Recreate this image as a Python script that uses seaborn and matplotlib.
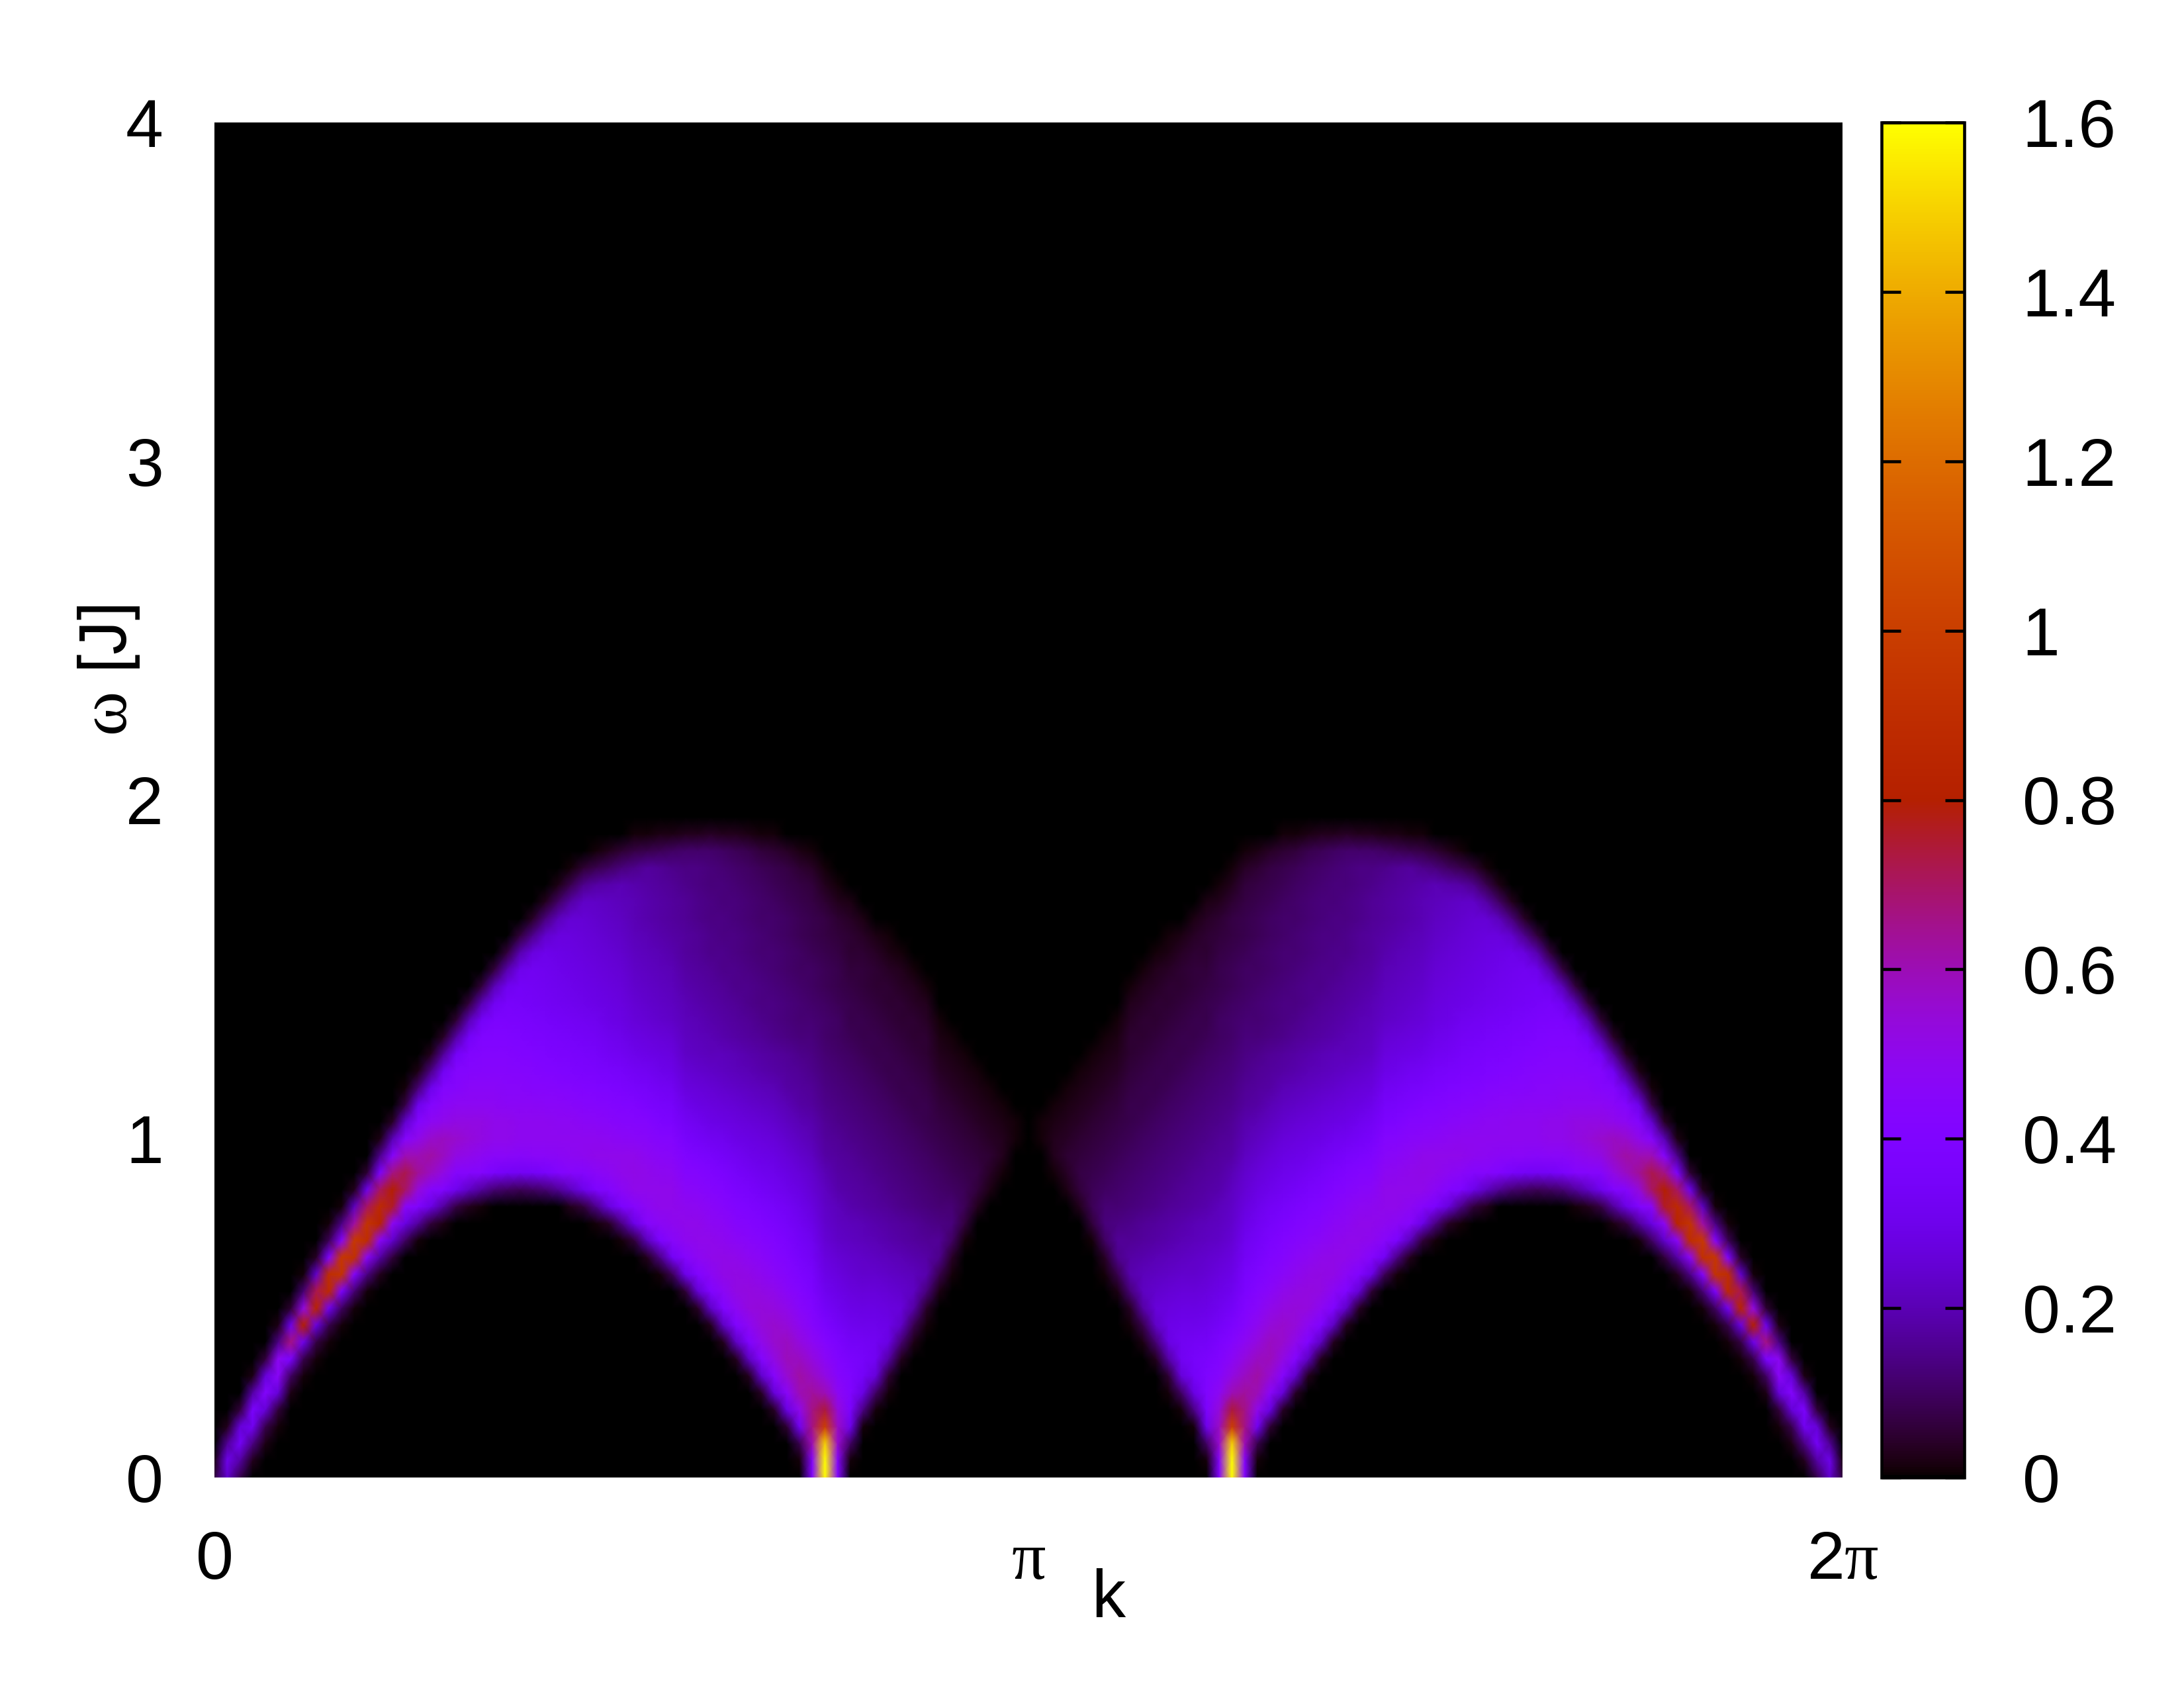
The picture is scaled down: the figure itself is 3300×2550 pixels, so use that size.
import matplotlib
matplotlib.use('Agg')
import matplotlib.pyplot as plt
from matplotlib.colors import ListedColormap
import numpy as np
import seaborn as sns

plt.rcParams['font.family'] = ['Liberation Sans']
plt.rcParams['mathtext.fontset'] = 'custom'
plt.rcParams['mathtext.rm'] = 'Liberation Sans'
plt.rcParams['mathtext.it'] = 'Liberation Serif'

# spectrum, in hundredths, k from 0 to pi in steps of pi/64,
# omega in steps of 0.05. Each column starts at row band_start[i], zero elsewhere.
# the picture is mirror symmetric about k = pi
band_start = [0, 0, 0, 1, 2, 3, 5, 6, 7, 8, 9, 10, 11, 12, 13, 14, 14, 15, 15, 16, 16, 16,
              17, 17, 17, 17, 17, 17, 16, 16, 15, 15, 14, 14, 13, 12, 12, 11, 10, 9, 8, 7,
              6, 5, 4, 3, 1, 0, 0, 0, 1, 3, 4, 5, 7, 8, 9, 11, 12, 14, 16, 17, 18, 20, 0]
band_values = [
    [6, 2],
    [24, 30, 16, 3],
    [8, 18, 34, 26, 6],
    [3, 14, 32, 38, 18, 2],
    [2, 8, 26, 42, 26, 6],
    [1, 6, 26, 46, 48, 14, 2],
    [2, 10, 38, 66, 30, 5],
    [1, 8, 30, 80, 52, 12, 1],
    [1, 7, 28, 84, 72, 24, 4],
    [1, 8, 32, 88, 90, 40, 9, 1],
    [1, 10, 38, 94, 96, 44, 14, 1],
    [1, 12, 42, 92, 97, 62, 22, 3],
    [1, 14, 46, 90, 94, 70, 30, 5],
    [3, 18, 46, 84, 88, 70, 38, 15, 2],
    [6, 24, 48, 76, 80, 66, 44, 20, 4],
    [10, 28, 46, 70, 72, 60, 44, 24, 7, 1],
    [1, 17, 40, 54, 64, 60, 50, 42, 30, 12, 2],
    [6, 29, 44, 58, 62, 56, 48, 42, 30, 14, 3],
    [2, 17, 41, 52, 58, 58, 50, 46, 42, 32, 16, 4],
    [7, 31, 44, 52, 56, 52, 48, 44, 42, 34, 18, 5],
    [3, 23, 43, 50, 54, 52, 48, 46, 43, 41, 34, 20, 6],
    [1, 17, 42, 48, 52, 52, 48, 46, 44, 42, 40, 34, 20, 6],
    [12, 37, 46, 50, 50, 48, 46, 44, 42, 41, 38, 32, 20, 6],
    [10, 34, 46, 50, 50, 47, 45, 44, 42, 40, 38, 36, 31, 19, 6],
    [9, 33, 45, 49, 49, 47, 45, 43, 41, 39, 37, 35, 34, 30, 19, 6],
    [10, 34, 46, 49, 49, 47, 44, 42, 40, 38, 36, 34, 33, 32, 27, 15, 4],
    [12, 36, 46, 49, 49, 46, 44, 41, 39, 37, 35, 33, 32, 31, 30, 24, 13, 3],
    [16, 41, 47, 49, 48, 46, 43, 40, 38, 36, 34, 32, 31, 30, 29, 27, 21, 10, 2],
    [3, 22, 44, 48, 49, 48, 45, 42, 39, 37, 35, 33, 31, 30, 29, 28, 27, 25, 18, 8, 1],
    [6, 30, 43, 49, 49, 47, 44, 41, 38, 36, 34, 32, 30, 29, 28, 27, 26, 25, 23, 15, 5],
    [1, 15, 39, 46, 50, 49, 46, 43, 40, 37, 35, 33, 31, 29, 28, 27, 26, 25, 24, 23, 18, 8, 1],
    [4, 27, 42, 48, 50, 48, 45, 42, 39, 36, 33, 31, 29, 28, 27, 26, 25, 24, 23, 22, 19, 10, 3],
    [1, 14, 38, 47, 50, 50, 47, 44, 41, 38, 35, 32, 30, 28, 27, 26, 25, 24, 23, 22, 21, 20, 13, 5, 0],
    [6, 29, 44, 50, 51, 50, 46, 43, 40, 36, 33, 30, 28, 26, 25, 24, 23, 22, 21, 20, 20, 19, 15, 7, 1],
    [3, 21, 44, 48, 50, 50, 48, 45, 42, 38, 35, 32, 29, 27, 25, 24, 23, 22, 21, 20, 19, 19, 18, 17, 8, 1],
    [1, 14, 38, 47, 50, 50, 49, 46, 43, 39, 36, 33, 30, 28, 26, 24, 23, 22, 21, 20, 19, 18, 18, 17, 16, 9, 2],
    [9, 33, 45, 49, 50, 50, 48, 45, 42, 38, 35, 32, 29, 27, 25, 23, 22, 21, 20, 19, 18, 17, 17, 16, 15, 10, 2],
    [5, 29, 43, 49, 50, 49, 46, 43, 40, 36, 33, 30, 27, 25, 23, 22, 21, 20, 19, 18, 17, 17, 16, 16, 15, 14, 11, 3],
    [4, 25, 41, 48, 50, 50, 48, 45, 42, 38, 34, 31, 28, 26, 24, 22, 21, 20, 19, 18, 17, 16, 16, 15, 15, 14, 14, 11, 3],
    [3, 23, 40, 47, 50, 50, 48, 46, 43, 40, 36, 32, 29, 27, 25, 23, 21, 20, 19, 18, 17, 16, 15, 15, 14, 14, 13, 13, 11, 4],
    [3, 22, 40, 47, 51, 51, 49, 47, 44, 41, 38, 34, 31, 28, 26, 24, 22, 21, 19, 18, 17, 16, 15, 15, 14, 14, 13, 13, 12, 10, 3],
    [3, 22, 40, 48, 52, 52, 50, 47, 44, 41, 38, 35, 32, 29, 27, 25, 23, 21, 20, 18, 17, 16, 15, 15, 14, 14, 13, 13, 12, 11, 9, 3],
    [3, 22, 40, 48, 53, 53, 51, 48, 45, 42, 39, 36, 33, 30, 28, 26, 24, 22, 20, 19, 17, 16, 15, 15, 14, 13, 13, 12, 12, 11, 10, 8, 2],
    [4, 24, 42, 50, 54, 54, 52, 49, 46, 43, 40, 37, 34, 31, 29, 27, 25, 23, 21, 19, 18, 16, 15, 14, 14, 13, 12, 12, 11, 11, 10, 9, 6, 1],
    [4, 26, 44, 52, 56, 56, 53, 50, 46, 43, 41, 38, 35, 32, 30, 28, 26, 24, 22, 20, 18, 17, 15, 14, 14, 13, 12, 12, 11, 11, 10, 9, 8, 5, 1],
    [5, 28, 46, 55, 59, 58, 54, 50, 46, 43, 40, 38, 35, 33, 30, 28, 26, 24, 22, 20, 18, 17, 16, 14, 13, 13, 12, 11, 11, 10, 10, 9, 8, 7, 4],
    [1, 8, 32, 50, 60, 62, 58, 53, 49, 45, 42, 39, 36, 34, 32, 30, 28, 26, 24, 22, 20, 18, 17, 16, 15, 13, 12, 12, 11, 10, 10, 9, 9, 8, 7, 5, 2],
    [42, 44, 60, 66, 66, 63, 58, 53, 48, 44, 41, 38, 36, 33, 31, 29, 27, 25, 24, 22, 20, 19, 17, 16, 15, 14, 13, 12, 11, 10, 10, 9, 8, 8, 7, 6, 4, 1],
    [160, 160, 150, 100, 74, 60, 52, 47, 42, 38, 34, 31, 29, 27, 25, 24, 23, 22, 20, 18, 17, 16, 15, 14, 13, 12, 11, 11, 10, 9, 9, 8, 7, 7, 5, 3, 1],
    [42, 44, 56, 58, 54, 48, 44, 41, 38, 34, 31, 29, 27, 25, 23, 22, 21, 19, 18, 17, 16, 15, 14, 13, 12, 11, 10, 10, 9, 8, 8, 7, 6, 5, 3, 1],
    [1, 10, 30, 38, 40, 39, 37, 34, 31, 29, 27, 25, 24, 22, 21, 19, 18, 17, 16, 15, 14, 13, 12, 11, 10, 9, 8, 8, 7, 6, 5, 5, 4, 2],
    [1, 14, 28, 34, 35, 33, 30, 28, 26, 24, 23, 21, 20, 18, 17, 16, 15, 14, 13, 12, 11, 10, 9, 8, 8, 7, 6, 6, 5, 4, 2],
    [1, 10, 26, 32, 32, 30, 28, 26, 24, 22, 20, 19, 17, 16, 15, 14, 13, 12, 11, 10, 9, 8, 8, 7, 6, 5, 5, 4, 2],
    [1, 5, 18, 28, 29, 27, 25, 23, 21, 19, 18, 16, 15, 14, 13, 12, 11, 10, 9, 8, 8, 7, 6, 5, 5, 4, 2, 1],
    [3, 12, 23, 26, 24, 22, 20, 18, 17, 15, 14, 13, 12, 11, 10, 9, 8, 8, 7, 6, 5, 5, 4, 3, 1],
    [2, 8, 18, 22, 21, 19, 17, 16, 14, 13, 12, 11, 10, 9, 8, 8, 7, 6, 5, 5, 4, 3, 1],
    [1, 4, 13, 19, 18, 16, 15, 13, 12, 11, 10, 9, 8, 8, 7, 6, 5, 5, 4, 3, 1],
    [2, 8, 15, 16, 14, 12, 11, 10, 9, 8, 7, 6, 5, 4, 3, 2, 1],
    [1, 4, 10, 13, 12, 10, 9, 8, 7, 6, 5, 4, 3, 2, 1],
    [1, 6, 9, 9, 8, 7, 6, 5, 4, 3, 2, 1],
    [3, 6, 7, 6, 5, 4, 3, 2, 1],
    [2, 4, 5, 4, 3, 2, 1],
    [1, 3, 3, 2, 1],
    [1, 1],
    [],
]
k_tick_labels = ['0', '$π$', '2$π$']
omega_tick_labels = ['0', '1', '2', '3', '4']
cbar_ticks = [0, 0.2, 0.4, 0.6, 0.8, 1.0, 1.2, 1.4, 1.6]
cbar_tick_labels = ['0', '0.2', '0.4', '0.6', '0.8', '1', '1.2', '1.4', '1.6']

n_rows = 81  # omega 0..4
half = np.zeros((n_rows, len(band_values)))
for i, vals in enumerate(band_values):
    half[band_start[i]:band_start[i] + len(vals), i] = np.array(vals) / 100.0
grid = np.hstack([half, half[:, -2::-1]])
n_cols = grid.shape[1]

# gnuplot's default pm3d palette (rgbformulae 7,5,15)
x = np.linspace(0, 1, 512)
palette = ListedColormap(np.column_stack([np.sqrt(x), x ** 3, np.clip(np.sin(2 * np.pi * x), 0, 1)]))

fig = plt.figure(figsize=(11, 8.5), dpi=300)
ax = fig.add_axes([324 / 3300, 1 - 2232 / 2550, 2460 / 3300, 2047 / 2550])
cax = fig.add_axes([2843 / 3300, 1 - 2232 / 2550, 125 / 3300, 2047 / 2550])

sns.heatmap(grid, ax=ax, cbar_ax=cax, cmap=palette, vmin=0, vmax=1.6, shading='gouraud',
            xticklabels=False, yticklabels=False, cbar_kws={'ticks': cbar_ticks})

ax.set_xlim(0, n_cols - 1)
ax.set_ylim(0, n_rows - 1)
ax.set_xticks([0, (n_cols - 1) / 2, n_cols - 1])
ax.set_xticklabels(k_tick_labels)
ax.set_yticks(np.linspace(0, n_rows - 1, 5))
ax.set_yticklabels(omega_tick_labels, rotation=0)
ax.tick_params(axis='x', length=0, pad=19, labelsize=24.5)
ax.tick_params(axis='y', length=0, pad=18.5, labelsize=24.5)

ax.set_xlabel('k', fontsize=24.5, va='baseline')
ax.xaxis.set_label_coords((1675 - 324) / 2460, (2232 - 2443) / 2047)
ax.set_ylabel('$ω$ [J]', fontsize=24.5, va='center')
ax.yaxis.set_label_coords((165 - 324) / 2460, (2232 - 1013) / 2047)

cbar = ax.collections[0].colorbar
cbar.set_ticklabels(cbar_tick_labels)
cbar.outline.set_linewidth(1.1)
cbar.outline.set_edgecolor('black')
cax.tick_params(axis='y', which='major', direction='in', left=True, right=True,
                length=7, width=1.1, color='black', pad=21, labelsize=24.5)

fig.savefig('out.png', dpi=300, facecolor='white')
